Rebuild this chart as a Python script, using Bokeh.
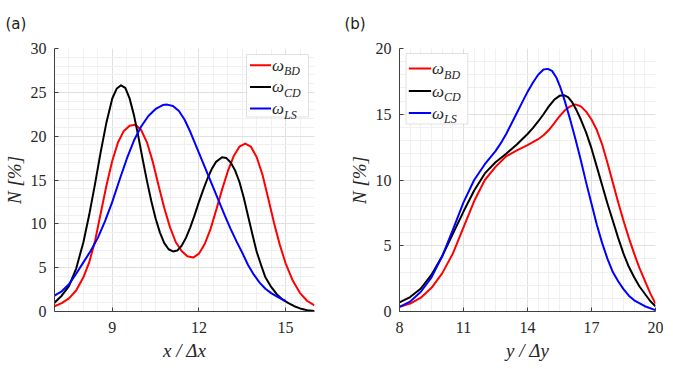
from bokeh.plotting import figure
from bokeh.layouts import row
from bokeh.models import FixedTicker, BoxAnnotation, Arrow, Label, Range1d
from bokeh.embed import file_html
from bokeh.resources import INLINE

# ---------------- data: panel (a) ----------------
a_bd_x = [7.0, 7.25, 7.5, 7.75, 8.0, 8.2, 8.4, 8.6, 8.8, 9.0, 9.2, 9.4, 9.6, 9.8, 10.0, 10.2,
          10.4, 10.6, 10.8, 11.0, 11.2, 11.4, 11.6, 11.8, 12.0, 12.2, 12.4, 12.6, 12.8, 13.0,
          13.2, 13.4, 13.6, 13.8, 14.0, 14.2, 14.4, 14.6, 14.8, 15.0, 15.25, 15.5, 15.75, 16.0]
a_bd_y = [0.6, 0.95, 1.5, 2.4, 3.9, 5.6, 8.0, 11.2, 14.4, 17.2, 19.3, 20.6, 21.2, 21.3, 20.7, 19.3,
          17.1, 14.4, 11.8, 9.6, 7.9, 6.9, 6.3, 6.15, 6.6, 7.7, 9.4, 11.6, 13.9, 16.0,
          17.7, 18.8, 19.15, 18.8, 17.6, 15.6, 12.9, 10.1, 7.6, 5.5, 3.5, 2.1, 1.2, 0.7]

a_cd_x = [7.0, 7.25, 7.5, 7.75, 8.0, 8.2, 8.4, 8.6, 8.8, 9.0, 9.15, 9.3, 9.45, 9.6, 9.75, 9.9,
          10.05, 10.2, 10.35, 10.5, 10.65, 10.8, 10.95, 11.1, 11.25, 11.4, 11.55, 11.7, 11.85,
          12.0, 12.15, 12.3, 12.45, 12.6, 12.8, 12.95, 13.1, 13.25, 13.4, 13.55, 13.7, 13.85,
          14.0, 14.15, 14.3, 14.5, 14.7, 14.9, 15.1, 15.3, 15.5, 15.75, 16.0]
a_cd_y = [1.0, 1.8, 2.9, 4.9, 7.9, 11.0, 14.5, 18.2, 21.6, 24.3, 25.4, 25.8, 25.5, 24.3, 22.4, 20.0,
          17.4, 14.9, 12.6, 10.6, 9.0, 7.8, 7.1, 6.85, 6.95, 7.5, 8.4, 9.6, 11.0,
          12.5, 13.9, 15.2, 16.3, 17.1, 17.6, 17.5, 17.0, 16.1, 14.8, 13.0, 10.9, 8.8,
          6.8, 5.3, 3.9, 2.8, 1.95, 1.35, 0.95, 0.6, 0.35, 0.15, 0.05]

a_ls_x = [7.0, 7.25, 7.5, 7.75, 8.0, 8.25, 8.5, 8.75, 9.0, 9.25, 9.5, 9.75, 10.0, 10.25, 10.5,
          10.75, 10.9, 11.1, 11.3, 11.5, 11.7, 11.9, 12.1, 12.3, 12.5, 12.7, 12.9, 13.1, 13.3,
          13.5, 13.7, 13.9, 14.1, 14.3, 14.5, 14.75, 15.0]
a_ls_y = [1.8, 2.3, 3.1, 4.3, 5.6, 6.9, 8.4, 10.3, 12.5, 15.0, 17.4, 19.5, 21.1, 22.3, 23.1,
          23.55, 23.6, 23.45, 22.9, 21.9, 20.5, 18.9, 17.3, 15.7, 14.1, 12.5, 10.9, 9.4, 8.0,
          6.7, 5.3, 4.2, 3.3, 2.6, 2.1, 1.6, 1.2]

# ---------------- data: panel (b) ----------------
b_bd_x = [8, 8.5, 9, 9.5, 10, 10.5, 11, 11.5, 12, 12.5, 13, 13.5, 14, 14.5, 14.75, 15, 15.25,
          15.5, 15.75, 16, 16.25, 16.5, 16.75, 17, 17.25, 17.5, 17.75, 18, 18.25, 18.5, 18.75,
          19, 19.25, 19.5, 19.75, 20]
b_bd_y = [0.35, 0.6, 1.05, 1.8, 2.9, 4.4, 6.4, 8.4, 10.0, 11.0, 11.8, 12.25, 12.65, 13.1, 13.4,
          13.8, 14.3, 14.85, 15.3, 15.6, 15.75, 15.6, 15.2, 14.6, 13.8, 12.7, 11.3, 9.8, 8.3,
          6.9, 5.6, 4.4, 3.3, 2.35, 1.4, 0.6]

b_cd_x = [8, 8.5, 9, 9.5, 10, 10.5, 11, 11.5, 12, 12.5, 13, 13.5, 14, 14.25, 14.5, 14.75, 15,
          15.25, 15.5, 15.7, 15.9, 16.1, 16.3, 16.5, 16.75, 17, 17.25, 17.5, 17.75, 18, 18.25,
          18.5, 18.75, 19, 19.25, 19.5, 19.75, 20]
b_cd_y = [0.7, 1.1, 1.75, 2.8, 4.2, 5.9, 7.6, 9.2, 10.5, 11.35, 12.0, 12.7, 13.5, 13.95, 14.45,
          15.0, 15.6, 16.1, 16.4, 16.45, 16.3, 15.9, 15.3, 14.6, 13.6, 12.4, 11.0, 9.6, 8.2,
          6.9, 5.6, 4.4, 3.4, 2.6, 1.9, 1.35, 0.8, 0.4]

b_ls_x = [8, 8.5, 9, 9.5, 10, 10.5, 11, 11.5, 12, 12.5, 12.75, 13, 13.25, 13.5, 13.75, 14, 14.25,
          14.5, 14.75, 14.95, 15.15, 15.35, 15.55, 15.75, 16, 16.25, 16.5, 16.75, 17, 17.25,
          17.5, 17.75, 18, 18.25, 18.5, 18.75, 19, 19.5, 20]
b_ls_y = [0.35, 0.75, 1.5, 2.6, 4.2, 6.2, 8.3, 10.0, 11.2, 12.2, 12.8, 13.5, 14.3, 15.1, 15.9,
          16.7, 17.4, 18.0, 18.4, 18.45, 18.3, 17.8, 17.0, 16.0, 14.6, 13.1, 11.5, 9.8, 8.2,
          6.6, 5.2, 4.0, 3.0, 2.3, 1.7, 1.2, 0.85, 0.4, 0.1]

series_names = ["BD", "CD", "LS"]
series_colors = ["#ff0000", "#000000", "#0000ff"]

a_xticks = [9, 12, 15]
a_yticks = [0, 5, 10, 15, 20, 25, 30]
b_xticks = [8, 11, 14, 17, 20]
b_yticks = [0, 5, 10, 15, 20]

TXT = "#262626"
SERIF = "'Liberation Serif', 'DejaVu Serif', serif"


def frange(a, b, s):
    out = []
    v = a
    while v <= b + 1e-9:
        out.append(round(v, 6))
        v += s
    return out


def make_panel(tag, tag_offset, xr, yr, xticks, yticks, xminor, yminor, curves, xlabel,
               fw, fh, bl, br, bt, bb, leg):
    p = figure(frame_width=fw, frame_height=fh, min_border_left=bl, min_border_right=br,
               min_border_top=bt, min_border_bottom=bb,
               x_range=Range1d(*xr), y_range=Range1d(*yr), title=tag,
               output_backend="svg", toolbar_location=None, tools="")
    p.outline_line_color = None
    p.background_fill_color = "white"
    p.border_fill_color = "white"

    p.title.align = "left"
    p.title.vertical_align = "top"
    p.title.offset = tag_offset
    p.title.text_font = "DejaVu Sans"
    p.title.text_font_size = "15px"
    p.title.text_font_style = "normal"
    p.title.text_color = "#1a1a1a"
    p.title.standoff = 28

    p.xaxis.ticker = FixedTicker(ticks=xticks, minor_ticks=frange(xr[0], xr[1], xminor))
    p.yaxis.ticker = FixedTicker(ticks=yticks, minor_ticks=frange(yr[0], yr[1], yminor))

    for ax in (p.xaxis[0], p.yaxis[0]):
        ax.axis_line_color = "#404040"
        ax.axis_line_width = 1
        ax.major_tick_in = 4
        ax.major_tick_out = 0
        ax.major_tick_line_color = "#404040"
        ax.minor_tick_line_color = None
        ax.major_label_text_font = SERIF
        ax.major_label_text_font_size = "16px"
        ax.major_label_text_color = TXT
        ax.axis_label_text_font = SERIF
        ax.axis_label_text_font_style = "italic"
        ax.axis_label_text_font_size = "19px"
        ax.axis_label_text_color = TXT
    p.xaxis.major_label_standoff = 6
    p.xaxis.axis_label_standoff = 4
    p.yaxis.major_label_standoff = 4
    p.yaxis.axis_label_standoff = 3
    p.xaxis.axis_label = xlabel
    p.yaxis.axis_label = "N [%]"

    p.xgrid.grid_line_color = "#e0e0e0"
    p.ygrid.grid_line_color = "#e0e0e0"
    p.xgrid.minor_grid_line_color = "#f0f0f0"
    p.ygrid.minor_grid_line_color = "#f0f0f0"

    for (xs, ys), col in zip(curves, series_colors):
        p.line(xs, ys, line_color=col, line_width=2, line_join="round")

    # helpers: frame pixel -> data
    def dx(px):
        return xr[0] + (xr[1] - xr[0]) * px / fw

    def dy(py):
        return yr[1] - (yr[1] - yr[0]) * py / fh

    # legend (hand made, so that subscripts can be drawn)
    bx0, bx1, by0, by1, rows, lx0, lx1, tx = leg
    p.add_layout(BoxAnnotation(left=dx(bx0), right=dx(bx1), top=dy(by0), bottom=dy(by1),
                               fill_color="white", fill_alpha=1.0,
                               line_color="#9a9a9a", line_width=1))
    for ry, name, col in zip(rows, series_names, series_colors):
        p.add_layout(Arrow(end=None, x_start=dx(lx0), x_end=dx(lx1), y_start=dy(ry), y_end=dy(ry),
                           line_color=col, line_width=2))
        p.add_layout(Label(x=dx(tx), y=dy(ry), text="ω", text_font=SERIF,
                           text_font_style="italic", text_font_size="17px",
                           text_color=TXT, text_baseline="middle", text_align="left"))
        p.add_layout(Label(x=dx(tx), y=dy(ry), x_offset=12, y_offset=-6, text=name,
                           text_font=SERIF, text_font_style="italic", text_font_size="12px",
                           text_color=TXT, text_baseline="middle", text_align="left"))
    return p


pa = make_panel("(a)", -49, (7, 16), (0, 30), a_xticks, a_yticks, 0.5, 1,
                [(a_bd_x, a_bd_y), (a_cd_x, a_cd_y), (a_ls_x, a_ls_y)], "x / Δx",
                260, 263, 48, 20, 47, 49,
                (192, 254, 6, 68.5, [16.7, 38.4, 60.0], 195.5, 216.5, 217.5))

pb = make_panel("(b)", -55, (8, 20), (0, 20), b_xticks, b_yticks, 0.5, 1,
                [(b_bd_x, b_bd_y), (b_cd_x, b_cd_y), (b_ls_x, b_ls_y)], "y / Δy",
                256, 263, 65, 8, 47, 49,
                (6.6, 68.3, 5, 75.5, [20.0, 42.5, 64.5], 9.3, 31.6, 32.6))

layout = row(pa, pb, spacing=0)

open("out.html", "w").write(file_html(layout, INLINE))
